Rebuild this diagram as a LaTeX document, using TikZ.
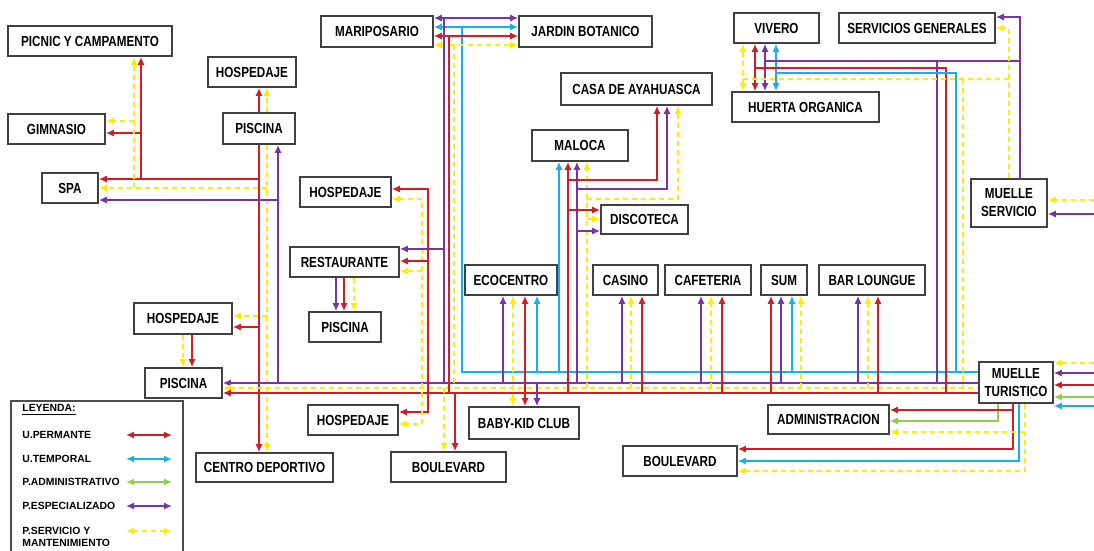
\documentclass[tikz,border=0pt]{standalone}
\usepackage{fontspec}
\setmainfont{Liberation Sans}
\newfontfamily\cajafont{Liberation Sans}[FakeStretch=0.8]
\usetikzlibrary{arrows.meta}

\definecolor{rojo}{RGB}{212,28,36}
\definecolor{celeste}{RGB}{20,176,240}
\definecolor{verdeclaro}{RGB}{140,208,80}
\definecolor{morado}{RGB}{118,52,168}
\definecolor{amarillo}{RGB}{255,236,0}

% caja: nombre, x1, y1, x2, y2, texto (en pixeles)
\newcommand{\caja}[6]{\node[caja, minimum width={(#4-#2)*0.5pt}, minimum height={(#5-#3)*0.5pt}] (#1) at ({(#2+#4)/2},{(#3+#5)/2}) {#6};}

\begin{document}
\begin{tikzpicture}[x=0.5pt, y=-0.5pt, >={Latex[length=4pt,width=3.6pt]},
  caja/.style={draw=black!75, line width=0.8pt, fill=white, inner sep=0pt, align=center,
    font={\cajafont\bfseries\fontsize{7.3}{9}\selectfont}},
  uperm/.style={draw=rojo, line width=0.9pt},
  utemp/.style={draw=celeste, line width=0.9pt},
  padmin/.style={draw=verdeclaro, line width=0.9pt},
  pespec/.style={draw=morado, line width=0.9pt},
  pserv/.style={draw=amarillo, line width=0.9pt, dash pattern=on 2.5pt off 2pt},
  ley/.style={anchor=west, inner sep=0pt, align=left, font={\bfseries\fontsize{5.2}{6.4}\selectfont}}]
  \useasboundingbox (0,0) rectangle (1094,551);

  \caja{picnic}{8}{26}{172}{56}{PICNIC Y CAMPAMENTO}
  \caja{hospA}{208}{57}{296}{87}{HOSPEDAJE}
  \caja{gimnasio}{8}{114}{105}{144}{GIMNASIO}
  \caja{piscA}{223}{113}{295}{144}{PISCINA}
  \caja{spa}{42}{173}{98}{203}{SPA}
  \caja{mariposario}{321}{16}{433}{47}{MARIPOSARIO}
  \caja{jardin}{519}{16}{652}{47}{JARDIN BOTANICO}
  \caja{hospB}{300}{177}{391}{207}{HOSPEDAJE}
  \caja{casa}{561}{73}{712}{105}{CASA DE AYAHUASCA}
  \caja{maloca}{532}{130}{628}{161}{MALOCA}
  \caja{vivero}{734}{13}{819}{43}{VIVERO}
  \caja{huerta}{732}{92}{879}{122}{HUERTA ORGANICA}
  \caja{servicios}{839}{13}{995}{43}{SERVICIOS GENERALES}
  \caja{mservicio}{971}{179}{1047}{227}{MUELLE\\SERVICIO}
  \caja{hospC}{134}{303}{232}{334}{HOSPEDAJE}
  \caja{piscB}{145}{368}{222}{398}{PISCINA}
  \caja{restaurante}{290}{247}{399}{277}{RESTAURANTE}
  \caja{piscC}{309}{312}{381}{342}{PISCINA}
  \caja{ecocentro}{465}{265}{557}{295}{ECOCENTRO}
  \caja{discoteca}{601}{205}{688}{234}{DISCOTECA}
  \caja{casino}{593}{265}{658}{295}{CASINO}
  \caja{cafeteria}{665}{265}{751}{295}{CAFETERIA}
  \caja{sum}{761}{265}{807}{295}{SUM}
  \caja{bar}{819}{265}{925}{295}{BAR LOUNGUE}
  \caja{mturistico}{979}{362}{1053}{403}{MUELLE\\TURISTICO}
  \caja{centro}{196}{453}{333}{482}{CENTRO DEPORTIVO}
  \caja{hospD}{308}{405}{398}{435}{HOSPEDAJE}
  \caja{boulevardA}{391}{452}{506}{482}{BOULEVARD}
  \caja{baby}{469}{407}{579}{439}{BABY-KID CLUB}
  \caja{admin}{768}{405}{889}{434}{ADMINISTRACION}
  \caja{boulevardB}{623}{446}{737}{476}{BOULEVARD}

  \draw[uperm,->] (259,0 |- piscA.north) -- (259,0 |- hospA.south);
  \draw[pserv,->] (267,0 |- piscA.north) -- (267,0 |- hospA.south);
  \draw[uperm,->] (259,0 |- piscA.south) -- (259,0 |- centro.north);
  \draw[pserv,->] (267,0 |- piscA.south) -- (267,0 |- centro.north);
  \draw[uperm,->] (259,179) -- (spa.east |- 0,179);
  \draw[uperm,->] (141,179) -- (141,0 |- picnic.south);
  \draw[uperm,->] (141,133) -- (gimnasio.east |- 0,133);
  \draw[pserv,->] (267,188) -- (spa.east |- 0,188);
  \draw[pserv,->] (134,188) -- (134,0 |- picnic.south);
  \draw[pserv,->] (134,121) -- (gimnasio.east |- 0,121);
  \draw[pespec,->] (278,383) -- (278,0 |- piscA.south);
  \draw[pespec,->] (278,200) -- (spa.east |- 0,200);
  \draw[uperm,->] (259,327) -- (hospC.east |- 0,327);
  \draw[pserv,->] (267,316) -- (hospC.east |- 0,316);
  \draw[pserv,->] (183,0 |- hospC.south) -- (183,0 |- piscB.north);
  \draw[uperm,->] (192,0 |- hospC.south) -- (192,0 |- piscB.north);

  \draw[pespec,<-] (piscB.east |- 0,383) -- (mturistico.west |- 0,383);
  \draw[pserv,<-] (piscB.east |- 0,388) -- (mturistico.west |- 0,388);
  \draw[uperm,<-] (piscB.east |- 0,393) -- (mturistico.west |- 0,393);
  \draw[utemp] (462,27) -- (462,372) -- (mturistico.west |- 0,372);

  \draw[pespec,<->] (mariposario.east |- 0,18) -- (jardin.west |- 0,18);
  \draw[utemp,<->] (mariposario.east |- 0,27) -- (jardin.west |- 0,27);
  \draw[uperm,<->] (mariposario.east |- 0,36) -- (jardin.west |- 0,36);
  \draw[pserv,<->] (mariposario.east |- 0,45) -- (jardin.west |- 0,45);
  \draw[pespec] (444,18) -- (444,383);
  \draw[uperm] (449,36) -- (449,393);
  \draw[pserv] (454,45) -- (454,388);

  \draw[uperm,<->] (hospB.east |- 0,189) -| (428,412) -- (hospD.east |- 0,412);
  \draw[pserv,<->] (hospB.east |- 0,199) -| (422,424) -- (hospD.east |- 0,424);
  \draw[pespec,->] (444,249) -- (restaurante.east |- 0,249);
  \draw[uperm,->] (428,261) -- (restaurante.east |- 0,261);
  \draw[pserv,->] (422,271) -- (restaurante.east |- 0,271);
  \draw[pespec,->] (336,0 |- restaurante.south) -- (336,0 |- piscC.north);
  \draw[uperm,->] (344,0 |- restaurante.south) -- (344,0 |- piscC.north);
  \draw[pserv,->] (354,0 |- restaurante.south) -- (354,0 |- piscC.north);
  \draw[pserv,->] (444,388) -- (444,0 |- boulevardA.north);
  \draw[uperm,->] (455,393) -- (455,0 |- boulevardA.north);

  \draw[pespec,->] (503,383) -- (503,0 |- ecocentro.south);
  \draw[pserv,<->] (513,0 |- baby.north) -- (513,0 |- ecocentro.south);
  \draw[uperm,<->] (525,0 |- baby.north) -- (525,0 |- ecocentro.south);
  \draw[utemp,->] (537,372) -- (537,0 |- ecocentro.south);
  \draw[pespec,->] (537,383) -- (537,0 |- baby.north);

  \draw[utemp,->] (559,372) -- (559,0 |- maloca.south);
  \draw[uperm,->] (568,393) -- (568,0 |- maloca.south);
  \draw[pespec,->] (577,383) -- (577,0 |- maloca.south);
  \draw[pserv,->] (587,388) -- (587,0 |- maloca.south);
  \draw[uperm,->] (568,180) -| (657,0 |- casa.south);
  \draw[pespec,->] (577,189) -| (667,0 |- casa.south);
  \draw[pserv,->] (587,199) -| (678,0 |- casa.south);
  \draw[uperm,->] (568,210) -- (discoteca.west |- 0,210);
  \draw[pserv,->] (587,219) -- (discoteca.west |- 0,219);
  \draw[pespec,->] (577,231) -- (discoteca.west |- 0,231);

  \draw[pespec,->] (622,383) -- (622,0 |- casino.south);
  \draw[pserv,->] (631,388) -- (631,0 |- casino.south);
  \draw[uperm,->] (642,393) -- (642,0 |- casino.south);
  \draw[pespec,->] (701,383) -- (701,0 |- cafeteria.south);
  \draw[pserv,->] (711,388) -- (711,0 |- cafeteria.south);
  \draw[uperm,->] (722,393) -- (722,0 |- cafeteria.south);
  \draw[uperm,->] (771,393) -- (771,0 |- sum.south);
  \draw[pespec,->] (781,383) -- (781,0 |- sum.south);
  \draw[utemp,->] (792,372) -- (792,0 |- sum.south);
  \draw[pserv,->] (801,388) -- (801,0 |- sum.south);
  \draw[pespec,->] (858,383) -- (858,0 |- bar.south);
  \draw[pserv,->] (868,388) -- (868,0 |- bar.south);
  \draw[uperm,->] (878,393) -- (878,0 |- bar.south);

  \draw[pserv,<->] (743,0 |- huerta.north) -- (743,0 |- vivero.south);
  \draw[uperm,<->] (755,0 |- huerta.north) -- (755,0 |- vivero.south);
  \draw[pespec,<->] (765,0 |- huerta.north) -- (765,0 |- vivero.south);
  \draw[utemp,<->] (776,0 |- huerta.north) -- (776,0 |- vivero.south);
  \draw[pespec] (765,61) -- (1020,61);
  \draw[pespec] (937,61) -- (937,383);
  \draw[uperm] (755,68) -| (946,393);
  \draw[utemp] (776,73) -| (956,372);
  \draw[pserv] (743,79) -- (1009,79);
  \draw[pserv] (963,79) -- (963,388);

  \draw[pespec,->] (1020,0 |- mservicio.north) |- (servicios.east |- 0,17);
  \draw[pserv,->] (1009,0 |- mservicio.north) |- (servicios.east |- 0,28);
  \draw[pserv,->] (1094,200) -- (mservicio.east |- 0,200);
  \draw[pespec,->] (1094,214) -- (mservicio.east |- 0,214);

  \draw[pserv,->] (1094,363) -- (mturistico.east |- 0,363);
  \draw[pespec,->] (1094,373) -- (mturistico.east |- 0,373);
  \draw[uperm,->] (1094,385) -- (mturistico.east |- 0,385);
  \draw[padmin,->] (1094,397) -- (mturistico.east |- 0,397);
  \draw[utemp,->] (1094,406) -- (mturistico.east |- 0,406);

  \draw[padmin,->] (998,0 |- mturistico.south) |- (admin.east |- 0,421);
  \draw[uperm,->] (1013,0 |- mturistico.south) |- (boulevardB.east |- 0,449);
  \draw[uperm,->] (1013,410) -- (admin.east |- 0,410);
  \draw[utemp,->] (1019,0 |- mturistico.south) |- (boulevardB.east |- 0,461);
  \draw[pserv,->] (1025,0 |- mturistico.south) |- (boulevardB.east |- 0,471);
  \draw[pserv,->] (1025,432) -- (admin.east |- 0,432);

  \draw[draw=black!70, line width=0.8pt] (11,553) -- (11,401) -- (183,401) -- (183,553);
  \node[ley] (leyenda) at (22,410) {\underline{LEYENDA:}};
  \node[ley] (lup) at (22,435) {U.PERMANTE};
  \node[ley] (lut) at (22,459) {U.TEMPORAL};
  \node[ley] (lpa) at (22,482) {P.ADMINISTRATIVO};
  \node[ley] (lpe) at (22,506) {P.ESPECIALIZADO};
  \node[ley] (lps) at (22,537) {P.SERVICIO Y\\MANTENIMIENTO};
  \draw[uperm,<->] (126,435) -- (172,435);
  \draw[utemp,<->] (126,459) -- (172,459);
  \draw[padmin,<->] (126,482) -- (172,482);
  \draw[pespec,<->] (126,506) -- (172,506);
  \draw[pserv,<->] (126,531) -- (172,531);
\end{tikzpicture}
\end{document}
